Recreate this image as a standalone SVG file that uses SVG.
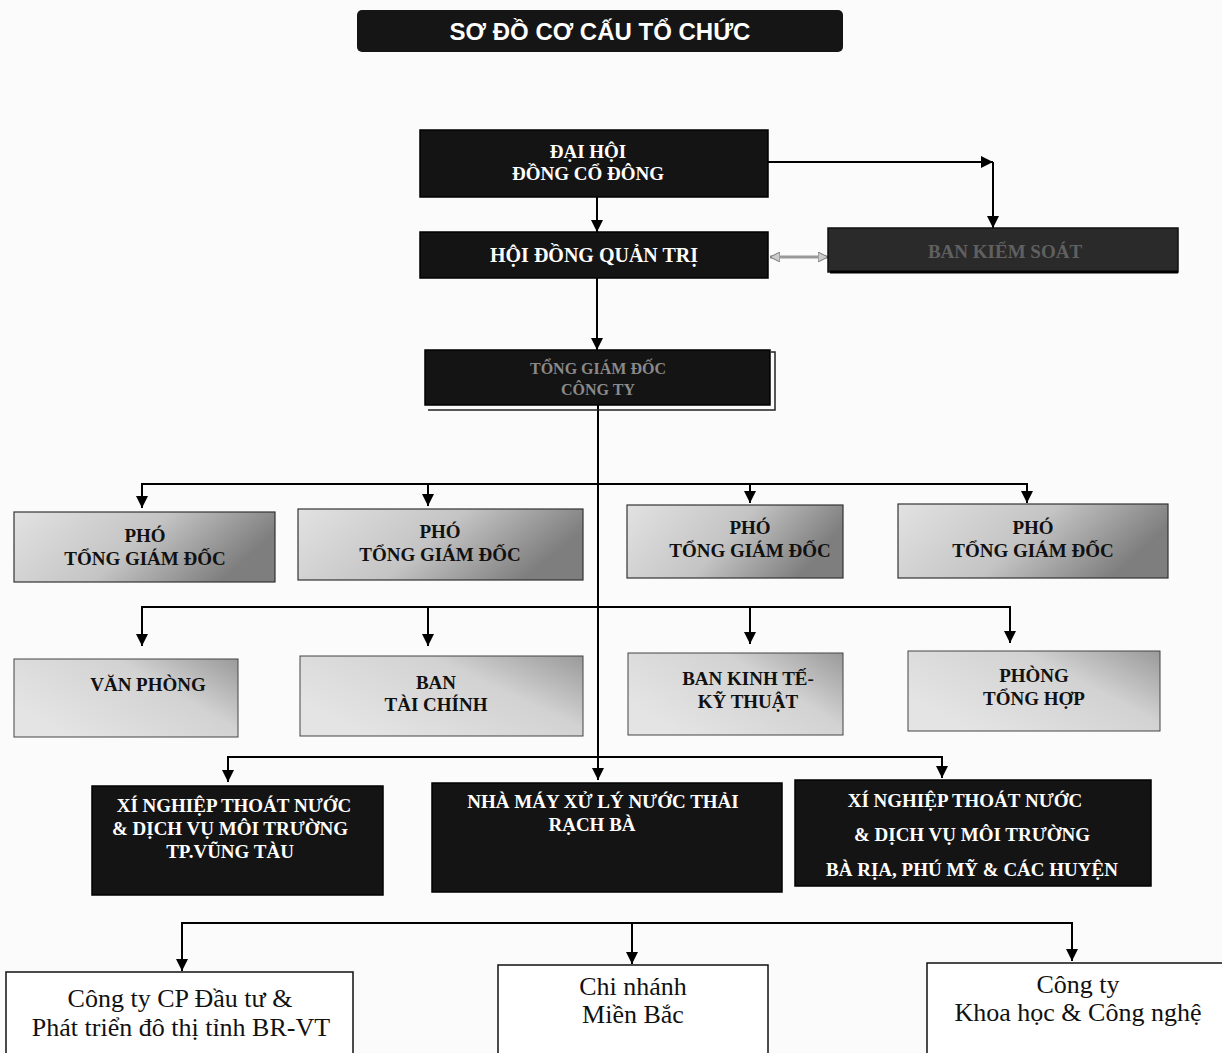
<svg xmlns="http://www.w3.org/2000/svg" width="1222" height="1053" viewBox="0 0 1222 1053">
<style>
.bw{font-family:"Liberation Serif","Times New Roman",serif;font-weight:bold;fill:#fff;text-anchor:middle;font-size:19px}
.bk{font-family:"Liberation Serif","Times New Roman",serif;font-weight:bold;fill:#111;text-anchor:middle;font-size:19px}
.rg{font-family:"Liberation Serif","Times New Roman",serif;fill:#111;text-anchor:middle;font-size:26px}
.blk{fill:#141414;stroke:#000;stroke-width:1.5}
.gry{fill:url(#g1);stroke:#333;stroke-width:1.2}
.gry2{fill:url(#g2);stroke:#444;stroke-width:1}
.wht{fill:#fff;stroke:#111;stroke-width:1.5}
.ln{fill:none;stroke:#000;stroke-width:2}
</style>
<defs>
<marker id="ah" viewBox="0 0 10 10" refX="10" refY="5" markerWidth="16" markerHeight="12" markerUnits="userSpaceOnUse" orient="auto">
<path d="M0,0 L10,5 L0,10 z" fill="#000"/>
</marker>
<marker id="ahg" viewBox="0 0 10 10" refX="10" refY="5" markerWidth="10" markerHeight="10" markerUnits="userSpaceOnUse" orient="auto-start-reverse">
<path d="M0,0 L10,5 L0,10 z" fill="#ccc" stroke="#777" stroke-width="1"/>
</marker>
<linearGradient id="g1" x1="0" y1="0" x2="1" y2="0.3">
<stop offset="0" stop-color="#e2e2e2"/>
<stop offset="0.55" stop-color="#c4c4c4"/>
<stop offset="1" stop-color="#7e7e7e"/>
</linearGradient>
<linearGradient id="g2" x1="0" y1="0.6" x2="1" y2="0">
<stop offset="0" stop-color="#e4e4e4"/>
<stop offset="0.6" stop-color="#d2d2d2"/>
<stop offset="1" stop-color="#9a9a9a"/>
</linearGradient>
</defs>
<rect width="1222" height="1053" fill="#fbfbfb"/>

<g id="title">
<rect x="357" y="10" width="486" height="42" rx="5" fill="#151515"/>
<text x="600" y="40" font-family="Liberation Sans,Arial,sans-serif" font-weight="bold" font-size="24" fill="#fff" text-anchor="middle">SƠ ĐỒ CƠ CẤU TỔ CHỨC</text>
</g>

<g id="connectors">
<line class="ln" x1="768" y1="162" x2="993" y2="162" marker-end="url(#ah)"/>
<line class="ln" x1="993" y1="162" x2="993" y2="228" marker-end="url(#ah)"/>
<line class="ln" x1="597" y1="197" x2="597" y2="232" marker-end="url(#ah)"/>
<line x1="770" y1="257" x2="828" y2="257" stroke="#999" stroke-width="3" marker-start="url(#ahg)" marker-end="url(#ahg)"/>
<line class="ln" x1="597" y1="278" x2="597" y2="350" marker-end="url(#ah)"/>
<line class="ln" x1="598" y1="405" x2="598" y2="757"/>
<line class="ln" x1="142" y1="484" x2="1027" y2="484"/>
<line class="ln" x1="142" y1="483" x2="142" y2="508" marker-end="url(#ah)"/>
<line class="ln" x1="428" y1="483" x2="428" y2="506" marker-end="url(#ah)"/>
<line class="ln" x1="750" y1="483" x2="750" y2="503" marker-end="url(#ah)"/>
<line class="ln" x1="1027" y1="483" x2="1027" y2="503" marker-end="url(#ah)"/>
<line class="ln" x1="142" y1="607" x2="1010" y2="607"/>
<line class="ln" x1="142" y1="606" x2="142" y2="646" marker-end="url(#ah)"/>
<line class="ln" x1="428" y1="606" x2="428" y2="646" marker-end="url(#ah)"/>
<line class="ln" x1="750" y1="606" x2="750" y2="644" marker-end="url(#ah)"/>
<line class="ln" x1="1010" y1="606" x2="1010" y2="643" marker-end="url(#ah)"/>
<line class="ln" x1="228" y1="757" x2="942" y2="757"/>
<line class="ln" x1="228" y1="756" x2="228" y2="782" marker-end="url(#ah)"/>
<line class="ln" x1="598" y1="756" x2="598" y2="780" marker-end="url(#ah)"/>
<line class="ln" x1="942" y1="756" x2="942" y2="778" marker-end="url(#ah)"/>
<line class="ln" x1="182" y1="923" x2="1072" y2="923"/>
<line class="ln" x1="182" y1="922" x2="182" y2="971" marker-end="url(#ah)"/>
<line class="ln" x1="632" y1="922" x2="632" y2="964" marker-end="url(#ah)"/>
<line class="ln" x1="1072" y1="922" x2="1072" y2="961" marker-end="url(#ah)"/>
</g>

<g id="dai-hoi">
<rect class="blk" x="420" y="130" width="348" height="67"/>
<text class="bw" x="588" y="158" font-size="20">ĐẠI HỘI</text>
<text class="bw" x="588" y="180" font-size="20">ĐỒNG CỔ ĐÔNG</text>
</g>

<g id="hdqt">
<rect class="blk" x="420" y="232" width="348" height="46"/>
<text class="bw" x="594" y="262" style="font-size:20px">HỘI ĐỒNG QUẢN TRỊ</text>
</g>

<g id="ban-kiem-soat">
<rect x="828" y="228" width="350" height="44" fill="#2a2a2a" stroke="#111" stroke-width="1.5"/>
<line x1="830" y1="272" x2="1178" y2="272" stroke="#000" stroke-width="3"/>
<text x="1005" y="258" font-family="Liberation Serif,serif" font-weight="bold" font-size="19" fill="#606060" text-anchor="middle">BAN KIỂM SOÁT</text>
</g>

<g id="tong-giam-doc">
<polyline points="771,352 775,352 775,410 428,410" fill="none" stroke="#222" stroke-width="1.5"/>
<rect class="blk" x="425" y="350" width="345" height="55"/>
<text x="598" y="374" font-family="Liberation Serif,serif" font-weight="bold" font-size="16" fill="#8a8a8a" text-anchor="middle">TỔNG GIÁM ĐỐC</text>
<text x="598" y="395" font-family="Liberation Serif,serif" font-weight="bold" font-size="16" fill="#8a8a8a" text-anchor="middle">CÔNG TY</text>
</g>

<g id="pho-tgd-1">
<rect class="gry" x="14" y="512" width="261" height="70"/>
<text class="bk" x="145" y="542">PHÓ</text>
<text class="bk" x="145" y="565">TỔNG GIÁM ĐỐC</text>
</g>
<g id="pho-tgd-2">
<rect class="gry" x="298" y="509" width="285" height="71"/>
<text class="bk" x="440" y="538">PHÓ</text>
<text class="bk" x="440" y="561">TỔNG GIÁM ĐỐC</text>
</g>
<g id="pho-tgd-3">
<rect class="gry" x="627" y="505" width="216" height="73"/>
<text class="bk" x="750" y="534">PHÓ</text>
<text class="bk" x="750" y="557">TỔNG GIÁM ĐỐC</text>
</g>
<g id="pho-tgd-4">
<rect class="gry" x="898" y="504" width="270" height="74"/>
<text class="bk" x="1033" y="534">PHÓ</text>
<text class="bk" x="1033" y="557">TỔNG GIÁM ĐỐC</text>
</g>

<g id="van-phong">
<rect class="gry2" x="14" y="659" width="224" height="78"/>
<text class="bk" x="148" y="691">VĂN PHÒNG</text>
</g>
<g id="ban-tai-chinh">
<rect class="gry2" x="300" y="656" width="283" height="80"/>
<text class="bk" x="436" y="689">BAN</text>
<text class="bk" x="436" y="711">TÀI CHÍNH</text>
</g>
<g id="ban-kinh-te">
<rect class="gry2" x="628" y="653" width="215" height="82"/>
<text class="bk" x="748" y="685">BAN KINH TẾ-</text>
<text class="bk" x="748" y="708">KỸ THUẬT</text>
</g>
<g id="phong-tong-hop">
<rect class="gry2" x="908" y="651" width="252" height="80"/>
<text class="bk" x="1034" y="682">PHÒNG</text>
<text class="bk" x="1034" y="705">TỔNG HỢP</text>
</g>

<g id="xn-vung-tau">
<rect class="blk" x="92" y="786" width="291" height="109"/>
<text class="bw" x="234" y="812">XÍ NGHIỆP THOÁT NƯỚC</text>
<text class="bw" x="230" y="835">&amp; DỊCH VỤ MÔI TRƯỜNG</text>
<text class="bw" x="230" y="858">TP.VŨNG TÀU</text>
</g>
<g id="nha-may-rach-ba">
<rect class="blk" x="432" y="783" width="350" height="109"/>
<text class="bw" x="603" y="808">NHÀ MÁY XỬ LÝ NƯỚC THẢI</text>
<text class="bw" x="592" y="831">RẠCH BÀ</text>
</g>
<g id="xn-ba-ria">
<rect class="blk" x="795" y="780" width="356" height="106"/>
<text class="bw" x="965" y="807">XÍ NGHIỆP THOÁT NƯỚC</text>
<text class="bw" x="972" y="841">&amp; DỊCH VỤ MÔI TRƯỜNG</text>
<text class="bw" x="972" y="876">BÀ RỊA, PHÚ MỸ &amp; CÁC HUYỆN</text>
</g>

<g id="cong-ty-cp">
<rect class="wht" x="6" y="972" width="347" height="90"/>
<text class="rg" x="180" y="1007">Công ty CP Đầu tư &amp;</text>
<text class="rg" x="181" y="1036">Phát triển đô thị tỉnh BR-VT</text>
</g>
<g id="chi-nhanh">
<rect class="wht" x="498" y="965" width="270" height="96"/>
<text class="rg" x="633" y="995">Chi nhánh</text>
<text class="rg" x="633" y="1023">Miền Bắc</text>
</g>
<g id="cong-ty-khcn">
<rect class="wht" x="927" y="963" width="300" height="98"/>
<text class="rg" x="1078" y="993">Công ty</text>
<text class="rg" x="1078" y="1021">Khoa học &amp; Công nghệ</text>
</g>
</svg>
